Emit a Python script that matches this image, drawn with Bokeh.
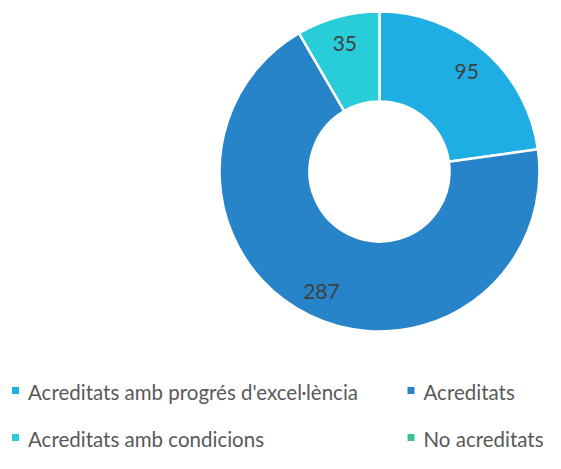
import numpy as np
from bokeh.plotting import figure
from bokeh.models import Range1d, ColumnDataSource
from bokeh.core.properties import value
from bokeh.embed import file_html
from bokeh.resources import INLINE

categories = ["Acreditats amb progrés d'excel·lència", "Acreditats",
              "Acreditats amb condicions", "No acreditats"]
values = [95, 287, 35, 0]
colors = ["#1FAEE3", "#2884C8", "#29CDD9", "#3DBF95"]

W, H = 545, 453
p = figure(width=W, height=H, x_range=Range1d(0, W), y_range=Range1d(0, H),
           output_backend="svg", toolbar_location=None, min_border=0)
p.axis.visible = False
p.grid.visible = False
p.outline_line_color = None
p.background_fill_color = "white"
p.border_fill_color = "white"

cx, cy = 379.0, 282.0
r_out, r_in = 160.0, 70.0
total = float(sum(values))
vals = np.array(values, dtype=float)
cum = np.concatenate([[0.0], np.cumsum(vals)])
start = np.pi / 2 - 2 * np.pi * cum[:-1] / total
end = np.pi / 2 - 2 * np.pi * cum[1:] / total

nz = [i for i, v in enumerate(values) if v > 0]
src = ColumnDataSource(dict(start=start[nz], end=end[nz],
                            color=[colors[i] for i in nz]))
p.annular_wedge(x=cx, y=cy, inner_radius=r_in, outer_radius=r_out,
                start_angle="start", end_angle="end", direction="clock",
                fill_color="color", line_color="white", line_width=2.5, source=src)

# data labels
mid = (start + end) / 2
r_lab = 133.0
lx = [cx + r_lab * np.cos(mid[i]) for i in nz]
ly = [cy + r_lab * np.sin(mid[i]) for i in nz]
lt = [str(values[i]) for i in nz]
p.text(x=lx, y=ly, text=lt, text_align="center", text_baseline="middle",
       text_font=value("Lato"), text_font_size="21px", text_color="#404040")

# legend
leg_x = [11.5, 407, 11.5, 407]
leg_y = [62, 62, 15, 15]
p.rect(x=[x + 3.5 for x in leg_x], y=[y + 1 for y in leg_y], width=7, height=7,
       fill_color=colors, line_color=None)
p.text(x=[x + 16 for x in leg_x], y=leg_y, text=categories,
       text_align="left", text_baseline="middle",
       text_font=value("Lato"), text_font_size="20.5px", text_color="#595959")

open("out.html", "w").write(file_html(p, INLINE))
